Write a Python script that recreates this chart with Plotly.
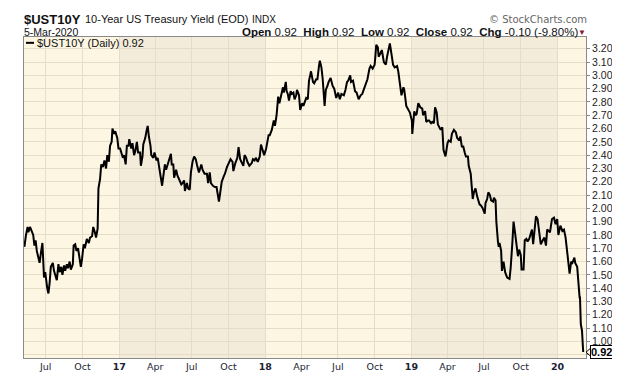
import plotly.graph_objects as go

dates = [
    # 2016
    "2016-05-09", "2016-05-11", "2016-05-13", "2016-05-17", "2016-05-19", "2016-05-23",
    "2016-05-26", "2016-05-31", "2016-06-03", "2016-06-06", "2016-06-09", "2016-06-13",
    "2016-06-16", "2016-06-20", "2016-06-23", "2016-06-27", "2016-06-30", "2016-07-05",
    "2016-07-08", "2016-07-11", "2016-07-14", "2016-07-19", "2016-07-22", "2016-07-26",
    "2016-07-29", "2016-08-02", "2016-08-05", "2016-08-09", "2016-08-12", "2016-08-16",
    "2016-08-19", "2016-08-23", "2016-08-26", "2016-08-30", "2016-09-02", "2016-09-07",
    "2016-09-09", "2016-09-13", "2016-09-16", "2016-09-20", "2016-09-23", "2016-09-27",
    "2016-09-30", "2016-10-04", "2016-10-07", "2016-10-12", "2016-10-17", "2016-10-20",
    "2016-10-25", "2016-10-28", "2016-11-01", "2016-11-04", "2016-11-08", "2016-11-10",
    "2016-11-14", "2016-11-17", "2016-11-21", "2016-11-25", "2016-11-29", "2016-12-02",
    "2016-12-06", "2016-12-09", "2016-12-13", "2016-12-15", "2016-12-19", "2016-12-22",
    "2016-12-27", "2016-12-30",
    # 2017
    "2017-01-03", "2017-01-06", "2017-01-10", "2017-01-13", "2017-01-17", "2017-01-20",
    "2017-01-24", "2017-01-26", "2017-01-31", "2017-02-03", "2017-02-07", "2017-02-10",
    "2017-02-14", "2017-02-17", "2017-02-22", "2017-02-24", "2017-02-28", "2017-03-02",
    "2017-03-07", "2017-03-10", "2017-03-13", "2017-03-16", "2017-03-20", "2017-03-22",
    "2017-03-27", "2017-03-30", "2017-04-04", "2017-04-07", "2017-04-11", "2017-04-13",
    "2017-04-18", "2017-04-21", "2017-04-25", "2017-04-28", "2017-05-02", "2017-05-05",
    "2017-05-10", "2017-05-12", "2017-05-16", "2017-05-18", "2017-05-23", "2017-05-26",
    "2017-05-31", "2017-06-05", "2017-06-08", "2017-06-12", "2017-06-14", "2017-06-19",
    "2017-06-22", "2017-06-26", "2017-06-29", "2017-07-03", "2017-07-07", "2017-07-11",
    "2017-07-14", "2017-07-19", "2017-07-25", "2017-07-28", "2017-08-02", "2017-08-08",
    "2017-08-11", "2017-08-15", "2017-08-18", "2017-08-23", "2017-08-28", "2017-09-01",
    "2017-09-07", "2017-09-11", "2017-09-14", "2017-09-19", "2017-09-22", "2017-09-27",
    "2017-10-02", "2017-10-06", "2017-10-11", "2017-10-13", "2017-10-18", "2017-10-23",
    "2017-10-26", "2017-10-30", "2017-11-02", "2017-11-07", "2017-11-10", "2017-11-14",
    "2017-11-17", "2017-11-22", "2017-11-28", "2017-12-01", "2017-12-05", "2017-12-08",
    "2017-12-13", "2017-12-18", "2017-12-21", "2017-12-27", "2017-12-29",
    # 2018
    "2018-01-03", "2018-01-05", "2018-01-09", "2018-01-12", "2018-01-17", "2018-01-22",
    "2018-01-25", "2018-01-29", "2018-02-02", "2018-02-05", "2018-02-09", "2018-02-14",
    "2018-02-16", "2018-02-21", "2018-02-23", "2018-02-26", "2018-03-01", "2018-03-05",
    "2018-03-08", "2018-03-12", "2018-03-15", "2018-03-19", "2018-03-21", "2018-03-26",
    "2018-03-29", "2018-04-03", "2018-04-06", "2018-04-10", "2018-04-13", "2018-04-17",
    "2018-04-20", "2018-04-23", "2018-04-25", "2018-04-30", "2018-05-03", "2018-05-08",
    "2018-05-11", "2018-05-15", "2018-05-17", "2018-05-21", "2018-05-24", "2018-05-29",
    "2018-06-01", "2018-06-05", "2018-06-08", "2018-06-13", "2018-06-18", "2018-06-22",
    "2018-06-27", "2018-07-02", "2018-07-06", "2018-07-10", "2018-07-16", "2018-07-20",
    "2018-07-24", "2018-07-27", "2018-08-01", "2018-08-03", "2018-08-08", "2018-08-13",
    "2018-08-17", "2018-08-22", "2018-08-27", "2018-08-31", "2018-09-05", "2018-09-10",
    "2018-09-13", "2018-09-18", "2018-09-21", "2018-09-26", "2018-10-01", "2018-10-03",
    "2018-10-05", "2018-10-09", "2018-10-11", "2018-10-16", "2018-10-19", "2018-10-24",
    "2018-10-29", "2018-11-01", "2018-11-05", "2018-11-08", "2018-11-13", "2018-11-16",
    "2018-11-20", "2018-11-26", "2018-11-29", "2018-12-04", "2018-12-07", "2018-12-12",
    "2018-12-14", "2018-12-19", "2018-12-24", "2018-12-28",
    # 2019
    "2019-01-02", "2019-01-03", "2019-01-08", "2019-01-11", "2019-01-14", "2019-01-18",
    "2019-01-23", "2019-01-28", "2019-01-30", "2019-02-04", "2019-02-07", "2019-02-11",
    "2019-02-14", "2019-02-19", "2019-02-22", "2019-02-26", "2019-03-01", "2019-03-05",
    "2019-03-08", "2019-03-12", "2019-03-15", "2019-03-19", "2019-03-22", "2019-03-27",
    "2019-04-01", "2019-04-04", "2019-04-09", "2019-04-12", "2019-04-17", "2019-04-22",
    "2019-04-25", "2019-04-30", "2019-05-03", "2019-05-07", "2019-05-10", "2019-05-14",
    "2019-05-17", "2019-05-22", "2019-05-24", "2019-05-29", "2019-06-03", "2019-06-06",
    "2019-06-10", "2019-06-14", "2019-06-18", "2019-06-20", "2019-06-24", "2019-06-28",
    "2019-07-03", "2019-07-05", "2019-07-09", "2019-07-12", "2019-07-16", "2019-07-19",
    "2019-07-24", "2019-07-26", "2019-07-30", "2019-08-01", "2019-08-05", "2019-08-07",
    "2019-08-09", "2019-08-13", "2019-08-15", "2019-08-19", "2019-08-23", "2019-08-28",
    "2019-09-03", "2019-09-06", "2019-09-10", "2019-09-13", "2019-09-17", "2019-09-20",
    "2019-09-24", "2019-09-27", "2019-10-01", "2019-10-03", "2019-10-08", "2019-10-11",
    "2019-10-15", "2019-10-18", "2019-10-22", "2019-10-25", "2019-10-29", "2019-11-01",
    "2019-11-05", "2019-11-08", "2019-11-12", "2019-11-15", "2019-11-20", "2019-11-25",
    "2019-11-29", "2019-12-03", "2019-12-06", "2019-12-10", "2019-12-13", "2019-12-18",
    "2019-12-23", "2019-12-27", "2019-12-31",
    # 2020
    "2020-01-03", "2020-01-08", "2020-01-13", "2020-01-17", "2020-01-21", "2020-01-24",
    "2020-01-27", "2020-01-29", "2020-01-31", "2020-02-04", "2020-02-07", "2020-02-12",
    "2020-02-14", "2020-02-19", "2020-02-21", "2020-02-24", "2020-02-25", "2020-02-26",
    "2020-02-27", "2020-02-28", "2020-03-02", "2020-03-03", "2020-03-04", "2020-03-05",
]
yields = [
    # 2016
    1.71, 1.76, 1.80, 1.86, 1.82, 1.86,
    1.84, 1.80, 1.72, 1.76, 1.68, 1.62,
    1.59, 1.68, 1.74, 1.48, 1.52, 1.40,
    1.36, 1.44, 1.56, 1.59, 1.53, 1.49,
    1.46, 1.58, 1.52, 1.56, 1.50, 1.57,
    1.53, 1.58, 1.55, 1.60, 1.54, 1.58,
    1.72, 1.73, 1.68, 1.70, 1.62, 1.56,
    1.62, 1.73, 1.70, 1.77, 1.74, 1.78,
    1.79, 1.86, 1.82, 1.78, 1.85, 2.15,
    2.22, 2.33, 2.31, 2.36, 2.30, 2.40,
    2.35, 2.47, 2.50, 2.60, 2.56, 2.58,
    2.53, 2.45,
    # 2017
    2.45, 2.42, 2.38, 2.40, 2.33, 2.47,
    2.47, 2.52, 2.45, 2.49, 2.40, 2.43,
    2.50, 2.42, 2.42, 2.32, 2.39, 2.48,
    2.53, 2.58, 2.62, 2.54, 2.47, 2.40,
    2.38, 2.42, 2.36, 2.38, 2.30, 2.24,
    2.17, 2.24, 2.33, 2.29, 2.33, 2.35,
    2.41, 2.33, 2.33, 2.23, 2.29, 2.25,
    2.21, 2.18, 2.19, 2.21, 2.13, 2.19,
    2.15, 2.14, 2.27, 2.35, 2.39, 2.37,
    2.33, 2.27, 2.33, 2.29, 2.26, 2.26,
    2.19, 2.27, 2.19, 2.17, 2.16, 2.16,
    2.05, 2.13, 2.20, 2.24, 2.26, 2.31,
    2.34, 2.37, 2.35, 2.28, 2.34, 2.38,
    2.46, 2.37, 2.35, 2.32, 2.40, 2.38,
    2.35, 2.32, 2.34, 2.37, 2.36, 2.38,
    2.35, 2.39, 2.48, 2.41, 2.40,
    # 2018
    2.45, 2.48, 2.55, 2.55, 2.59, 2.66,
    2.62, 2.70, 2.84, 2.79, 2.85, 2.91,
    2.87, 2.95, 2.88, 2.86, 2.81, 2.88,
    2.86, 2.87, 2.82, 2.85, 2.89, 2.85,
    2.74, 2.79, 2.77, 2.80, 2.83, 2.82,
    2.96, 3.00, 3.03, 2.95, 2.94, 2.97,
    2.97, 3.07, 3.11, 3.06, 2.98, 2.77,
    2.89, 2.92, 2.95, 2.98, 2.92, 2.90,
    2.83, 2.87, 2.82, 2.86, 2.85, 2.89,
    2.95, 2.96, 3.00, 2.95, 2.96, 2.88,
    2.87, 2.82, 2.85, 2.86, 2.90, 2.94,
    2.97, 3.05, 3.07, 3.05, 3.08, 3.15,
    3.23, 3.21, 3.14, 3.17, 3.19, 3.10,
    3.08, 3.14, 3.20, 3.24, 3.14, 3.08,
    3.06, 3.07, 3.03, 2.91, 2.85, 2.91,
    2.89, 2.77, 2.74, 2.72,
    # 2019
    2.66, 2.56, 2.73, 2.70, 2.71, 2.79,
    2.76, 2.75, 2.70, 2.73, 2.65, 2.66,
    2.66, 2.64, 2.65, 2.64, 2.76, 2.72,
    2.63, 2.61, 2.59, 2.61, 2.44, 2.39,
    2.49, 2.51, 2.50, 2.56, 2.59, 2.57,
    2.53, 2.51, 2.54, 2.46, 2.47, 2.42,
    2.39, 2.39, 2.32, 2.26, 2.07, 2.12,
    2.15, 2.09, 2.06, 2.03, 2.02, 2.00,
    1.96, 2.04, 2.07, 2.12, 2.10, 2.06,
    2.05, 2.08, 2.06, 1.90, 1.75, 1.71,
    1.74, 1.68, 1.53, 1.60, 1.52, 1.48,
    1.47, 1.56, 1.74, 1.90, 1.81, 1.74,
    1.64, 1.69, 1.65, 1.54, 1.54, 1.76,
    1.77, 1.75, 1.77, 1.80, 1.84, 1.73,
    1.86, 1.94, 1.92, 1.84, 1.73, 1.76,
    1.78, 1.72, 1.84, 1.83, 1.82, 1.92,
    1.93, 1.88, 1.92,
    # 2020
    1.80, 1.87, 1.83, 1.84, 1.78, 1.70,
    1.61, 1.59, 1.51, 1.60, 1.59, 1.63,
    1.59, 1.56, 1.47, 1.38, 1.33, 1.33,
    1.26, 1.13, 1.08, 1.02, 1.02, 0.92,
]

tick_dates = ["2016-07-01", "2016-10-01", "2017-01-01", "2017-04-01", "2017-07-01",
              "2017-10-01", "2018-01-01", "2018-04-01", "2018-07-01", "2018-10-01",
              "2019-01-01", "2019-04-01", "2019-07-01", "2019-10-01", "2020-01-01"]
tick_labels = ["Jul", "Oct", "<b>17</b>", "Apr", "Jul", "Oct", "<b>18</b>", "Apr", "Jul",
               "Oct", "<b>19</b>", "Apr", "Jul", "Oct", "<b>20</b>"]
y_ticks = [round(0.9 + 0.1 * i, 2) for i in range(24)]
y_labels = ["" if v < 0.95 else f"{v:.2f}" for v in y_ticks]
shaded_years = [("2017-01-01", "2018-01-01"), ("2019-01-01", "2020-01-01")]

W, H = 620, 376
L, R, T, B = 16, 578, 29, 359

def px(x):
    return (x - L) / (R - L)

def py(y):
    return (B - y) / (B - T)

fig = go.Figure()
fig.add_trace(go.Scatter(x=dates, y=yields, mode="lines",
                         line=dict(color="#000000", width=2), showlegend=False,
                         hoverinfo="skip"))

for a, b in shaded_years:
    fig.add_shape(type="rect", xref="x", yref="paper", x0=a, x1=b, y0=0, y1=1,
                  fillcolor="#F3ECDB", line_width=0, layer="below")

font_main = "Liberation Sans, Arial, sans-serif"

def label(x, y, text, size, color="#111", anchor="left", family=font_main):
    fig.add_annotation(xref="paper", yref="paper", x=px(x), y=py(y), xanchor=anchor,
                       yanchor="middle", showarrow=False, text=text, borderpad=0,
                       font=dict(family=family, size=size, color=color))

# legend line + text
fig.add_shape(type="line", xref="paper", yref="paper", x0=px(18), x1=px(26),
              y0=py(35), y1=py(35), line=dict(color="#000", width=2))
label(28, 35, "$UST10Y (Daily) 0.92", 11)

# header
label(15, 10.5, "<b>$UST10Y</b>", 13)
label(76, 11, "10-Year US Treasury Yield (EOD)", 11)
label(243, 11.5, "INDX", 10)
label(15, 24, "5-Mar-2020", 10.5)
label(571, 23.5, "<b>Open</b> 0.92  <b>High</b> 0.92  <b>Low</b> 0.92  <b>Close</b> 0.92  <b>Chg</b> -0.10 (-9.80%)",
      11.5, anchor="right")
label(579, 24, "▼", 8, color="#8B1030", anchor="right")
label(580, 10.5, "© StockCharts.com", 10, color="#666", anchor="right",
      family="DejaVu Sans, sans-serif")

# last value tag
fig.add_annotation(xref="paper", yref="y", x=px(582), y=yields[-1], xanchor="left",
                   yanchor="middle", showarrow=False, text="<b>0.92</b>",
                   font=dict(family=font_main, size=11, color="#000"),
                   bgcolor="#FFFFFF", bordercolor="#000", borderwidth=1, borderpad=0)
fig.add_shape(type="path", xref="paper", yref="paper",
              path=f"M {px(578)},{py(353)} L {px(582.5)},{py(349)} L {px(582.5)},{py(357)} Z",
              fillcolor="#FFFFFF", line=dict(color="#000", width=1))

fig.update_xaxes(type="date", range=["2016-05-08", "2020-03-12"],
                 tickvals=tick_dates, ticktext=tick_labels, showgrid=True,
                 gridcolor="#E6DDC9", gridwidth=1, showline=True, linecolor="#8A8A8A",
                 mirror=True, ticks="", tickfont=dict(family="DejaVu Sans, sans-serif",
                 size=9.5, color="#1c2433"), zeroline=False)
fig.update_yaxes(range=[0.875, 3.288], side="right", tickvals=y_ticks, ticktext=y_labels,
                 showgrid=True, gridcolor="#E6DDC9", gridwidth=1, showline=True,
                 linecolor="#8A8A8A", mirror=True, ticks="outside", ticklen=3,
                 tickcolor="#8A8A8A",
                 tickfont=dict(family=font_main, size=10.5, color="#222"), zeroline=False)

fig.update_layout(width=W, height=H, margin=dict(l=L, r=W - R, t=T, b=H - B),
                  paper_bgcolor="#FFFFFF", plot_bgcolor="#FDF6E3")

fig.write_html("out.html")
